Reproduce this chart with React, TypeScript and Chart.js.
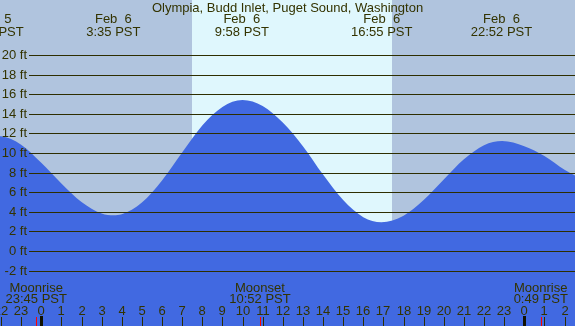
import { useEffect, useRef } from "react";
import { Chart, registerables } from "chart.js";

Chart.register(...registerables);

const TITLE = "Olympia, Budd Inlet, Puget Sound, Washington";

// hours relative to Feb 6 00:00 PST, tide heights in feet
const HOURS = [-3, -2, -1, 0, 1, 2, 3, 3.6, 4, 5, 6, 7, 8, 9, 10, 11, 12, 13, 14, 15, 16, 16.9, 18, 19, 20, 21, 22, 22.9, 24, 25, 26, 27];
const HEIGHTS_FT = [11.75, 11.7, 10.85, 9.0, 6.9, 5.0, 3.82, 3.64, 3.74, 4.95, 7.2, 10.05, 12.8, 14.7, 15.4, 14.8, 13.1, 10.7, 7.8, 5.2, 3.45, 2.93, 3.6, 5.2, 7.3, 9.35, 10.8, 11.22, 10.7, 9.7, 8.3, 7.2];

const EXTREME_HOURS = [-2.4, 3.583, 9.967, 16.917, 22.867];
const EXTREME_DATES = ["Feb  5", "Feb  6", "Feb  6", "Feb  6", "Feb  6"];
const EXTREME_TIMES = ["21:36 PST", "3:35 PST", "9:58 PST", "16:55 PST", "22:52 PST"];

const MOON_HOURS = [-0.25, 10.867, 24.817];
const MOON_EVENTS = ["Moonrise", "Moonset", "Moonrise"];
const MOON_TIMES = ["23:45 PST", "10:52 PST", "0:49 PST"];

const SUNRISE_HOUR = 7.5;
const SUNSET_HOUR = 17.45;

const Y_TICKS = [-2, 0, 2, 4, 6, 8, 10, 12, 14, 16, 18, 20];
const HOUR_TICKS = [-2, -1, 0, 1, 2, 3, 4, 5, 6, 7, 8, 9, 10, 11, 12, 13, 14, 15, 16, 17, 18, 19, 20, 21, 22, 23, 24, 25, 26];

const X_MIN = -2.05;
const X_MAX = 26.52;
const Y_MIN = -7.65;
const Y_MAX = 25.61;

const FONT = "13px 'Liberation Sans', Arial, sans-serif";
const TEXT = "#333300";
const LINE = "#2E2E00";
const NIGHT = "#B0C4DE";
const DAY = "#DFF7FD";
const WATER = "#4169E1";

const hourLabel = (h: number) => String(((h % 24) + 24) % 24);

const decor = {
  id: "tideDecor",
  beforeDatasetsDraw(chart: any) {
    const { ctx, width, height } = chart;
    const xs = chart.scales.x;
    ctx.save();
    ctx.fillStyle = NIGHT;
    ctx.fillRect(0, 0, width, height);
    const x1 = Math.round(xs.getPixelForValue(SUNRISE_HOUR));
    const x2 = Math.round(xs.getPixelForValue(SUNSET_HOUR));
    ctx.fillStyle = DAY;
    ctx.fillRect(x1, 0, x2 - x1, height);
    ctx.restore();
  },
  afterDatasetsDraw(chart: any) {
    const { ctx, width, height } = chart;
    const xs = chart.scales.x;
    const ys = chart.scales.y;
    ctx.save();
    ctx.strokeStyle = LINE;
    ctx.lineWidth = 1;
    ctx.font = FONT;
    ctx.fillStyle = TEXT;
    ctx.textAlign = "right";
    ctx.textBaseline = "middle";
    Y_TICKS.forEach((v) => {
      const y = Math.round(ys.getPixelForValue(v)) + 0.5;
      ctx.beginPath();
      ctx.moveTo(29, y);
      ctx.lineTo(width, y);
      ctx.stroke();
      ctx.fillText(`${v} ft`, 27, y);
    });
    ctx.textAlign = "center";
    ctx.fillText(TITLE, width / 2, 8);
    EXTREME_HOURS.forEach((h, i) => {
      const x = xs.getPixelForValue(h);
      ctx.fillText(EXTREME_DATES[i], x, 19.5);
      ctx.fillText(EXTREME_TIMES[i], x, 32);
    });
    MOON_HOURS.forEach((h, i) => {
      const x = xs.getPixelForValue(h);
      ctx.fillText(MOON_EVENTS[i], x, 288);
      ctx.fillText(MOON_TIMES[i], x, 299.5);
    });
    HOUR_TICKS.forEach((h) => {
      const x = Math.round(xs.getPixelForValue(h));
      ctx.fillStyle = TEXT;
      ctx.fillText(hourLabel(h), x, 311.5);
      if (h % 24 === 0) {
        ctx.fillStyle = "#111100";
        ctx.fillRect(x - 1, 316, 3, height - 316);
      } else {
        ctx.fillStyle = LINE;
        ctx.fillRect(x, 317, 1, height - 317);
      }
    });
    MOON_HOURS.forEach((h) => {
      const x = Math.round(xs.getPixelForValue(h));
      ctx.fillStyle = "#FF0000";
      ctx.fillRect(x, 317, 1, height - 317);
    });
    ctx.restore();
  },
};

export default function App() {
  const ref = useRef<HTMLCanvasElement | null>(null);
  useEffect(() => {
    document.body.style.margin = "0";
    const canvas = ref.current;
    if (!canvas) return;
    const chart = new Chart(canvas, {
      type: "line",
      data: {
        datasets: [
          {
            data: HOURS.map((h, i) => ({ x: h, y: HEIGHTS_FT[i] })),
            borderWidth: 0,
            borderColor: WATER,
            backgroundColor: WATER,
            pointRadius: 0,
            fill: "start",
            cubicInterpolationMode: "monotone",
          },
        ],
      },
      options: {
        animation: false,
        responsive: false,
        maintainAspectRatio: false,
        devicePixelRatio: 1,
        layout: { padding: 0 },
        scales: {
          x: { type: "linear", min: X_MIN, max: X_MAX, display: false },
          y: { type: "linear", min: Y_MIN, max: Y_MAX, display: false },
        },
        plugins: { legend: { display: false }, tooltip: { enabled: false }, title: { display: false } },
        events: [],
      },
      plugins: [decor],
    });
    return () => chart.destroy();
  }, []);
  return (
    <div style={{ position: "absolute", left: 0, top: 0, width: 575, height: 326 }}>
      <canvas ref={ref} width={575} height={326} style={{ display: "block", width: 575, height: 326 }} />
    </div>
  );
}
